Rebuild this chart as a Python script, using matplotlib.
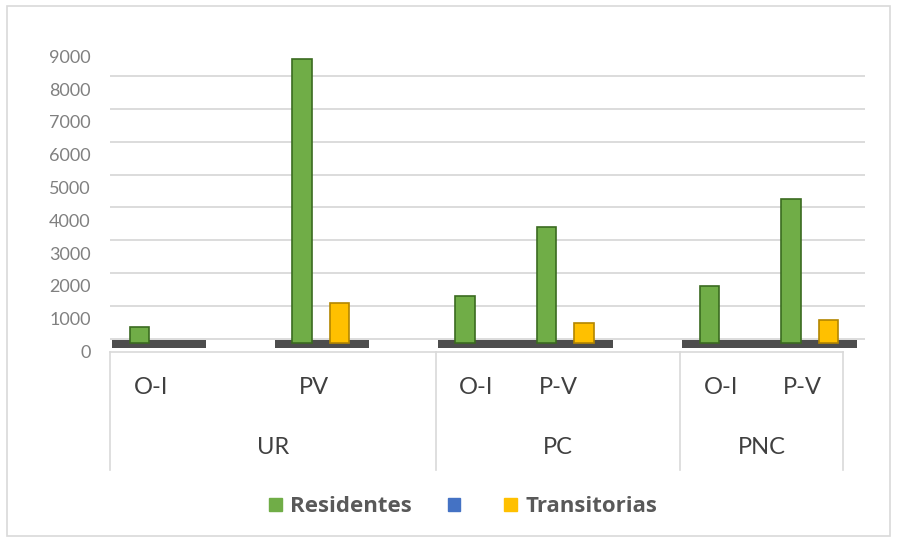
import numpy as np
import matplotlib
matplotlib.use("Agg")
import matplotlib.pyplot as plt
from matplotlib.patches import Patch, Rectangle
from matplotlib.transforms import ScaledTranslation, blended_transform_factory

plt.rcParams['font.family'] = ['Lato', 'DejaVu Sans']

# groups and sub categories (blank slots keep Excel's spacing)
groups = ["UR", "PC", "PNC"]
subcats = [["O-I", "", "PV", ""], ["O-I", "P-V", ""], ["O-I", "P-V"]]

residentes = [480, np.nan, 8650, np.nan, 1450, 3550, np.nan, 1750, 4400]
serie2 = [0, np.nan, 0, np.nan, 0, 0, np.nan, 0, 0]
transitorias = [0, np.nan, 1230, np.nan, 0, 620, np.nan, 0, 690]

labels = [s for g in subcats for s in g]
x = np.arange(len(labels))

fig = plt.figure(figsize=(8.98, 5.42), dpi=100)
ax = fig.add_axes([110 / 898, (542 - 348) / 542, (865 - 110) / 898, 300 / 542])

# outer frame
fig.patches.append(Rectangle((7 / 898, 6 / 542), 883 / 898, 530 / 542, transform=fig.transFigure,
                             fill=False, edgecolor="#d9d9d9", linewidth=1.2))

# dark floor under used slots
used = np.array([lab != "" for lab in labels])
ax.bar(x[used] + 0.1, 250, bottom=-150, width=1.15, color="#4d4d4d", zorder=2)

w = 0.24
b1 = ax.bar(x - 0.14, residentes, width=w, color="#70ad47", edgecolor="#3b6b20", linewidth=1.2, zorder=3)
b2 = ax.bar(x + 0.09, serie2, width=w, color="#4472c4", linewidth=0, zorder=3)
b3 = ax.bar(x + 0.32, transitorias, width=w, color="#ffc000", edgecolor="#b38600", linewidth=1.2, zorder=3)
for cont in (b1, b2, b3):
    for p in cont:
        if not p.get_height() > 0:
            p.set_linewidth(0)

ax.set_xlim(-0.5, len(labels) - 0.5 + 22 / 81.5)
ax.set_ylim(-150, 9000)
ax.set_yticks(np.arange(0, 9001, 1000))
ax.tick_params(axis="y", length=0, pad=14, labelsize=13, labelcolor="#808080")
ax.set_xticks([])
ax.grid(axis="y", color="#d9d9d9", linewidth=1.3, zorder=0)
ax.set_axisbelow(True)
# back wall gridlines sit a little higher, labels on the front edge a little lower
for line in ax.get_ygridlines():
    line.set_transform(line.get_transform() + ScaledTranslation(0, 3.2 / 72, fig.dpi_scale_trans))
for lab in ax.get_yticklabels():
    lab.set_transform(lab.get_transform() + ScaledTranslation(0, -6 / 72, fig.dpi_scale_trans))
for s in ax.spines.values():
    s.set_visible(False)

# two level category axis
trans = blended_transform_factory(ax.transData, ax.transAxes)
txt = "#404040"
for i, lab in enumerate(labels):
    if lab:
        ax.text(i, -0.133, lab, transform=trans, ha="center", va="center", fontsize=17, color=txt)

start = -0.5
bounds = [start]
for g, subs in zip(groups, subcats):
    end = start + len(subs)
    ax.text((start + end) / 2, -0.333, g, transform=trans, ha="center", va="center", fontsize=17, color=txt)
    bounds.append(end)
    start = end
for b in bounds:
    ax.plot([b, b], [-0.013, -0.407], transform=trans, color="#d9d9d9", linewidth=1.2, clip_on=False)
ax.plot([bounds[0], bounds[-1]], [-0.013, -0.013], transform=trans, color="#d9d9d9", linewidth=1.2, clip_on=False)

handles = [Patch(color="#70ad47"), Patch(color="#4472c4"), Patch(color="#ffc000")]
fig.legend(handles, ["Residentes", "", "Transitorias"], loc="center", bbox_to_anchor=(0.516, 1 - 507 / 542),
           ncol=3, frameon=False, prop={"family": "Open Sans", "size": 16, "weight": "bold"},
           handlelength=0.55, handleheight=0.55, handletextpad=0.4, columnspacing=1.6, labelcolor="#595959")

fig.savefig("out.png", dpi=100)
